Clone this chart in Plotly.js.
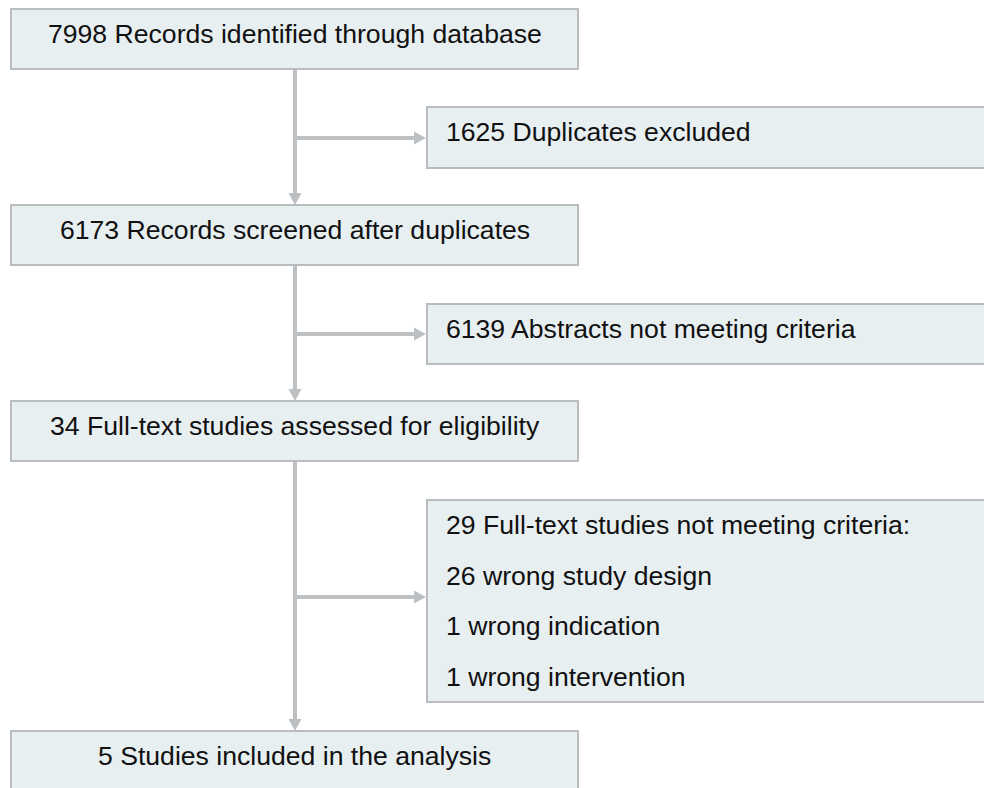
<!DOCTYPE html>
<html>
<head>
<meta charset="utf-8">
<script src="https://cdn.plot.ly/plotly-3.0.1.min.js"></script>
<style>html,body{margin:0;padding:0;background:#fff;}#chart{width:984px;height:788px;}</style>
</head>
<body>
<div id="chart"></div>
<script>
// ---- data ----
const stageCounts = [7998, 6173, 34, 5];
const stageLabels = [
  "Records identified through database",
  "Records screened after duplicates",
  "Full-text studies assessed for eligibility",
  "Studies included in the analysis"
];
const exclusionCounts = [1625, 6139, 29];
const exclusionLabels = [
  "Duplicates excluded",
  "Abstracts not meeting criteria",
  "Full-text studies not meeting criteria:"
];
const reasonCounts = [26, 1, 1];
const reasonLabels = ["wrong study design", "wrong indication", "wrong intervention"];

// ---- layout geometry (pixel-like coordinates) ----
const W = 984, H = 788;
const fill = "#e8eff1", border = "#babdbf", lineCol = "#bcc0c3", txtCol = "#111111";
const font = {family: "Liberation Sans, Arial, sans-serif", size: 26.6, color: txtCol};

const mainX0 = 11, mainX1 = 578, midX = 295;
const mainTops = [9, 205, 401, 731];
const boxH = 60;
const sideX0 = 427, sideX1 = 1000;
const sideTops = [107, 304, 500];
const sideBottoms = [168, 364, 702];
const arrowYs = [138, 334, 597];

const shapes = [];
const annotations = [];

// main boxes
mainTops.forEach((t, i) => {
  shapes.push({type: "rect", xref: "x", yref: "y", x0: mainX0, x1: mainX1, y0: t, y1: t + boxH,
    fillcolor: fill, line: {color: border, width: 2}, layer: "above"});
  annotations.push({xref: "x", yref: "y", x: (mainX0 + mainX1) / 2, y: t + 25,
    text: stageCounts[i] + " " + stageLabels[i], showarrow: false,
    xanchor: "center", yanchor: "middle", font: font});
});

// side boxes
sideTops.forEach((t, i) => {
  shapes.push({type: "rect", xref: "x", yref: "y", x0: sideX0, x1: sideX1, y0: t, y1: sideBottoms[i],
    fillcolor: fill, line: {color: border, width: 2}, layer: "above"});
  annotations.push({xref: "x", yref: "y", x: 444, y: t + 25,
    text: exclusionCounts[i] + " " + exclusionLabels[i], showarrow: false,
    xanchor: "left", yanchor: "middle", font: font});
});

// reasons
reasonCounts.forEach((c, i) => {
  annotations.push({xref: "x", yref: "y", x: 444, y: sideTops[2] + 25 + 50.7 * (i + 1),
    text: c + " " + reasonLabels[i], showarrow: false,
    xanchor: "left", yanchor: "middle", font: font});
});

// vertical connectors with arrowheads
for (let i = 0; i < mainTops.length - 1; i++) {
  const y0 = mainTops[i] + boxH + 1, y1 = mainTops[i + 1];
  shapes.push({type: "line", xref: "x", yref: "y", x0: midX, x1: midX, y0: y0, y1: y1 - 10,
    line: {color: lineCol, width: 4}, layer: "below"});
  shapes.push({type: "path", xref: "x", yref: "y",
    path: `M ${midX - 6.5} ${y1 - 12} L ${midX + 6.5} ${y1 - 12} L ${midX} ${y1} Z`,
    fillcolor: lineCol, line: {color: lineCol, width: 0}, layer: "below"});
}

// horizontal connectors with arrowheads
arrowYs.forEach(y => {
  shapes.push({type: "line", xref: "x", yref: "y", x0: midX, x1: sideX0 - 10, y0: y, y1: y,
    line: {color: lineCol, width: 4}, layer: "below"});
  shapes.push({type: "path", xref: "x", yref: "y",
    path: `M ${sideX0 - 13} ${y - 6.5} L ${sideX0 - 13} ${y + 6.5} L ${sideX0 - 1} ${y} Z`,
    fillcolor: lineCol, line: {color: lineCol, width: 0}, layer: "below"});
});

const layout = {
  width: W, height: H,
  margin: {l: 0, r: 0, t: 0, b: 0},
  paper_bgcolor: "#ffffff", plot_bgcolor: "#ffffff",
  xaxis: {range: [0, W], visible: false, fixedrange: true},
  yaxis: {range: [H, 0], visible: false, fixedrange: true},
  shapes: shapes,
  annotations: annotations,
  showlegend: false
};

Plotly.newPlot("chart", [{x: [], y: [], type: "scatter", mode: "markers", hoverinfo: "skip"}], layout,
  {staticPlot: true, displayModeBar: false});
</script>
</body>
</html>
